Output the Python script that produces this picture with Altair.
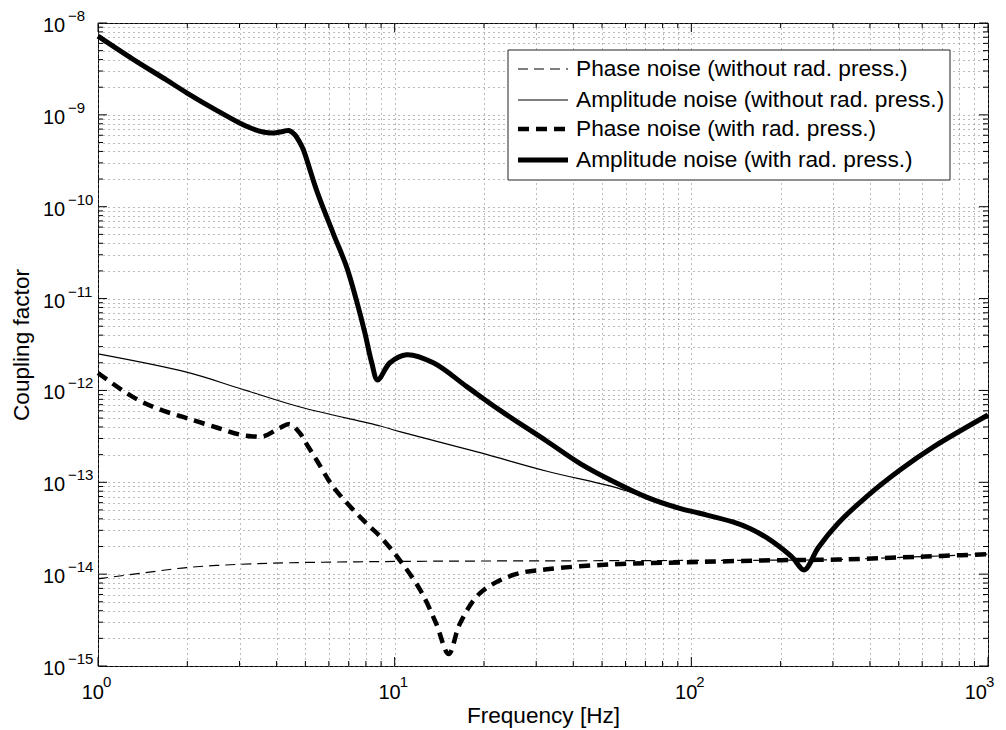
import altair as alt
import pandas as pd

FONT = "Liberation Sans"

SERIES = [
    "Phase noise (without rad. press.)",
    "Amplitude noise (without rad. press.)",
    "Phase noise (with rad. press.)",
    "Amplitude noise (with rad. press.)",
]

# Phase noise (without rad. press.)
PN0_F = [1, 1.39, 1.99, 3.01, 4.43, 8.94, 20, 50, 100, 200, 312, 505, 700, 1000]
PN0_V = [8.9e-15, 1.02e-14, 1.18e-14, 1.28e-14, 1.33e-14, 1.37e-14, 1.39e-14, 1.40e-14,
         1.41e-14, 1.42e-14, 1.44e-14, 1.52e-14, 1.58e-14, 1.65e-14]

# Amplitude noise (without rad. press.)
AN0_F = [1, 1.99, 3.01, 4.8, 8.94, 10.4, 19.4, 32.6, 54.6, 67, 91.4, 106.6, 138, 157.6, 180,
         198.9, 220, 240, 268, 312, 389, 505, 655, 1000]
AN0_V = [2.5e-12, 1.58e-12, 1.05e-12, 6.6e-13, 4.1e-13, 3.56e-13, 2.1e-13, 1.32e-13, 8.9e-14,
         7.2e-14, 5.2e-14, 4.6e-14, 3.7e-14, 3.14e-14, 2.48e-14, 1.97e-14, 1.5e-14, 1.11e-14,
         1.95e-14, 3.56e-14, 6.95e-14, 1.36e-13, 2.43e-13, 5.4e-13]

# Phase noise (with rad. press.)
PN1_F = [1, 1.31, 1.6, 1.99, 2.51, 3.01, 3.33, 3.61, 4.1, 4.43, 4.8, 5.05, 5.46, 6.21, 8.04,
         8.94, 10.4, 12.2, 13.8, 15.2, 16.6, 19.4, 25.1, 32.6, 54.6, 91.4, 200, 312, 505, 700,
         1000]
PN1_V = [1.55e-12, 8.5e-13, 6.28e-13, 5.0e-13, 3.95e-13, 3.3e-13, 3.16e-13, 3.16e-13, 3.9e-13,
         4.3e-13, 3.4e-13, 2.6e-13, 1.74e-13, 8.9e-14, 3.55e-14, 2.57e-14, 1.42e-14, 6.7e-15,
         2.9e-15, 1.35e-15, 2.9e-15, 6.2e-15, 9.8e-15, 1.13e-14, 1.28e-14, 1.34e-14, 1.42e-14,
         1.44e-14, 1.52e-14, 1.58e-14, 1.65e-14]

# Amplitude noise (with rad. press.)
AN1_F = [1, 1.31, 1.70, 1.99, 2.51, 3.0, 3.3, 3.6, 3.9, 4.2, 4.4, 4.6, 4.8, 4.92, 5.46, 6.21,
         6.89, 7.43, 7.94, 8.37, 8.76, 9.64, 10.97, 13.5, 17.5, 22.6, 32.6, 42.2, 54.6, 70.6,
         91.4, 106.6, 138, 157.6, 180, 198.9, 220, 240, 268, 312, 389, 505, 655, 1000]
AN1_V = [7.2e-9, 4.05e-9, 2.4e-9, 1.74e-9, 1.12e-9, 8.15e-10, 7.1e-10, 6.51e-10, 6.35e-10,
         6.59e-10, 6.76e-10, 6.11e-10, 4.94e-10, 4.2e-10, 1.5e-10, 5.1e-11, 2.2e-11, 9.6e-12,
         4.2e-12, 2.0e-12, 1.3e-12, 2.0e-12, 2.45e-12, 2.0e-12, 1.1e-12, 6.1e-13, 2.8e-13,
         1.6e-13, 1.02e-13, 6.9e-14, 5.2e-14, 4.6e-14, 3.7e-14, 3.14e-14, 2.48e-14, 1.97e-14,
         1.5e-14, 1.11e-14, 1.95e-14, 3.56e-14, 6.95e-14, 1.36e-13, 2.43e-13, 5.4e-13]

X_DECADES = [1, 10, 100, 1000]
X_EXPS = ["0", "1", "2", "3"]
Y_DECADES = [1e-15, 1e-14, 1e-13, 1e-12, 1e-11, 1e-10, 1e-9, 1e-8]
Y_EXPS = ["\u221215", "\u221214", "\u221213", "\u221212", "\u221211", "\u221210", "\u22129", "\u22128"]

X_MINOR = [d * m for d in X_DECADES[:-1] for m in range(2, 10)]
Y_MINOR = [d * m for d in Y_DECADES[:-1] for m in range(2, 10)]
X_GRID = sorted(X_DECADES + X_MINOR)
Y_GRID = sorted(Y_DECADES + Y_MINOR)

W, H = 890, 643

STYLES = {
    SERIES[0]: dict(strokeWidth=1.2, strokeDash=[10, 6]),
    SERIES[1]: dict(strokeWidth=1.2),
    SERIES[2]: dict(strokeWidth=4.5, strokeDash=[11, 7]),
    SERIES[3]: dict(strokeWidth=5),
}

frames = []
for name, fs, vs in [(SERIES[0], PN0_F, PN0_V), (SERIES[1], AN0_F, AN0_V),
                     (SERIES[2], PN1_F, PN1_V), (SERIES[3], AN1_F, AN1_V)]:
    frames.append(pd.DataFrame({"f": fs, "v": vs, "series": name}))
data = pd.concat(frames, ignore_index=True)

xs = alt.Scale(type="log", domain=[1, 1000], nice=False)
ys = alt.Scale(type="log", domain=[1e-15, 1e-8], nice=False)

GRID = dict(grid=True, gridDash=[1, 4], gridColor="#777", gridWidth=1)
x_axis = alt.Axis(values=X_GRID, **GRID,
                  labels=False, ticks=False, domain=False, title="Frequency [Hz]",
                  titleFont=FONT, titleFontSize=22.6, titleFontWeight="normal", titleColor="black",
                  titleBaseline="alphabetic", titleY=56)
y_axis = alt.Axis(values=Y_GRID, **GRID,
                  labels=False, ticks=False, domain=False, title="Coupling factor",
                  titleFont=FONT, titleFontSize=22.6, titleFontWeight="normal", titleColor="black",
                  titleAngle=270, titleAlign="center", titleBaseline="alphabetic",
                  titleX=-69.5, titleY=H / 2)

layers = []
base = alt.Chart(data)
for i, name in enumerate(SERIES):
    enc = dict(x=alt.X("f:Q", scale=xs, axis=x_axis if i == 0 else None),
               y=alt.Y("v:Q", scale=ys, axis=y_axis if i == 0 else None))
    layers.append(
        base.transform_filter(alt.datum.series == name)
        .mark_line(color="black", interpolate="catmull-rom", strokeCap="butt", strokeJoin="round",
                   **STYLES[name])
        .encode(**enc)
    )

# inward ticks on all four sides
xmaj = pd.DataFrame({"t": X_DECADES})
xmin = pd.DataFrame({"t": X_MINOR})
ymaj = pd.DataFrame({"t": Y_DECADES})
ymin = pd.DataFrame({"t": Y_MINOR})
for df, ln in [(xmaj, 9), (xmin, 5)]:
    xe = alt.X("t:Q", scale=xs, axis=None)
    layers.append(alt.Chart(df).mark_rule(color="black", strokeWidth=1)
                  .encode(x=xe, y=alt.value(H), y2=alt.value(H - ln)))
    layers.append(alt.Chart(df).mark_rule(color="black", strokeWidth=1)
                  .encode(x=xe, y=alt.value(0), y2=alt.value(ln)))
for df, ln in [(ymaj, 9), (ymin, 5)]:
    ye = alt.Y("t:Q", scale=ys, axis=None)
    layers.append(alt.Chart(df).mark_rule(color="black", strokeWidth=1)
                  .encode(y=ye, x=alt.value(0), x2=alt.value(ln)))
    layers.append(alt.Chart(df).mark_rule(color="black", strokeWidth=1)
                  .encode(y=ye, x=alt.value(W), x2=alt.value(W - ln)))

# tick labels with superscript exponents (last x label nudged inward, as in the original)
xl = pd.DataFrame({"t": X_DECADES, "e": X_EXPS})
for flt, shift in [(alt.datum.t < 1000, 0), (alt.datum.t >= 1000, -7)]:
    src = alt.Chart(xl).transform_filter(flt)
    layers.append(src.mark_text(font=FONT, fontSize=20, align="right", baseline="alphabetic",
                                dx=6 + shift, color="black")
                  .encode(x=alt.X("t:Q", scale=xs, axis=None), y=alt.value(H + 33),
                          text=alt.value("10")))
    layers.append(src.mark_text(font=FONT, fontSize=15, align="left", baseline="alphabetic",
                                dx=5 + shift, color="black")
                  .encode(x=alt.X("t:Q", scale=xs, axis=None), y=alt.value(H + 21), text="e:N"))
yl = pd.DataFrame({"t": Y_DECADES, "e": Y_EXPS})
layers.append(alt.Chart(yl).mark_text(font=FONT, fontSize=20, align="left", baseline="alphabetic",
                                      dy=9, color="black")
              .encode(y=alt.Y("t:Q", scale=ys, axis=None), x=alt.value(-55), text=alt.value("10")))
layers.append(alt.Chart(yl).mark_text(font=FONT, fontSize=15, align="left", baseline="alphabetic",
                                      dy=-2, color="black")
              .encode(y=alt.Y("t:Q", scale=ys, axis=None), x=alt.value(-30), text="e:N"))

# legend
one = pd.DataFrame({"k": [0]})
layers.append(alt.Chart(one).mark_rect(fill="white", stroke="#222", strokeWidth=1)
              .encode(x=alt.value(410), x2=alt.value(852), y=alt.value(27), y2=alt.value(157)))
ROW_Y = [46, 77, 106, 137]
for name, ry in zip(SERIES, ROW_Y):
    layers.append(alt.Chart(one).mark_rule(color="black", strokeCap="butt", **STYLES[name])
                  .encode(x=alt.value(420), x2=alt.value(470), y=alt.value(ry)))
    layers.append(alt.Chart(one).mark_text(font=FONT, fontSize=22.7, align="left", baseline="middle",
                                           color="black", text=name)
                  .encode(x=alt.value(478), y=alt.value(ry)))

chart = (
    alt.layer(*layers)
    .resolve_axis(x="independent", y="independent")
    .properties(width=W, height=H, autosize=alt.AutoSizeParams(type="none"),
                padding={"left": 90, "top": 15, "right": 10, "bottom": 62})
    .configure_view(stroke="black", strokeWidth=1)
)

chart.save("out.html", embed_options={"renderer": "svg", "actions": False})
